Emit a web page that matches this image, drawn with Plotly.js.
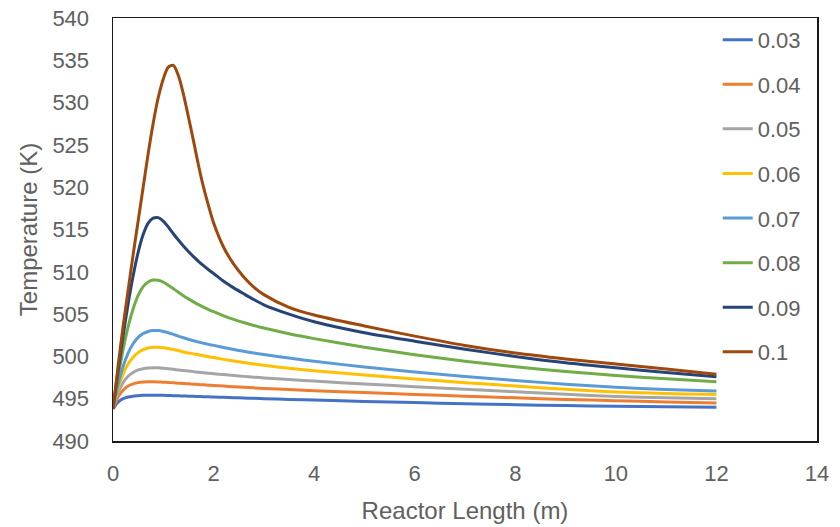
<!DOCTYPE html>
<html>
<head>
<meta charset="utf-8">
<script src="https://cdn.plot.ly/plotly-3.0.1.min.js"></script>
<style>html,body{margin:0;padding:0;background:#fff;}#chart{width:840px;height:527px;}</style>
</head>
<body>
<div id="chart"></div>
<script>
// Reactor length (m)
const xLen = [0, 0.1, 0.2, 0.3, 0.4, 0.5, 0.6, 0.7, 0.8, 0.9, 1.0, 1.1, 1.2, 1.3, 1.4, 1.5, 1.6, 1.7, 1.8, 1.9, 2.0, 2.2, 2.4, 2.6, 2.8, 3.0, 3.5, 4, 5, 6, 7, 8, 9, 10, 11, 12];

// Temperature (K) per series
const t003 = [493.8, 494.6, 495.0, 495.2, 495.3, 495.35, 495.4, 495.4, 495.4, 495.4, 495.4, 495.38, 495.36, 495.34, 495.32, 495.3, 495.28, 495.26, 495.24, 495.22, 495.2, 495.16, 495.12, 495.08, 495.04, 495.0, 494.92, 494.84, 494.68, 494.54, 494.41, 494.29, 494.19, 494.1, 494.04, 494.0];
const t004 = [493.8, 495.2, 496.0, 496.5, 496.75, 496.9, 496.97, 497.0, 497.0, 496.98, 496.95, 496.92, 496.88, 496.84, 496.8, 496.76, 496.72, 496.68, 496.64, 496.6, 496.56, 496.49, 496.42, 496.35, 496.28, 496.22, 496.08, 495.95, 495.72, 495.5, 495.3, 495.1, 494.92, 494.76, 494.62, 494.5];
const t005 = [493.8, 495.7, 496.9, 497.65, 498.1, 498.4, 498.55, 498.63, 498.66, 498.65, 498.6, 498.54, 498.47, 498.4, 498.33, 498.27, 498.2, 498.14, 498.08, 498.02, 497.96, 497.85, 497.74, 497.64, 497.55, 497.46, 497.26, 497.08, 496.74, 496.42, 496.12, 495.82, 495.52, 495.26, 495.1, 495.0];
const t006 = [493.8, 496.2, 497.9, 499.1, 499.9, 500.45, 500.8, 501.0, 501.08, 501.08, 501.02, 500.93, 500.82, 500.7, 500.52, 500.41, 500.3, 500.2, 500.08, 499.97, 499.86, 499.65, 499.45, 499.27, 499.1, 498.95, 498.6, 498.3, 497.8, 497.33, 496.9, 496.5, 496.12, 495.8, 495.6, 495.5];
const t007 = [493.8, 496.6, 498.8, 500.4, 501.5, 502.25, 502.7, 502.95, 503.05, 503.05, 502.95, 502.8, 502.6, 502.4, 502.2, 502.02, 501.85, 501.7, 501.55, 501.42, 501.3, 501.05, 500.82, 500.6, 500.4, 500.22, 499.8, 499.42, 498.75, 498.15, 497.62, 497.15, 496.72, 496.35, 496.08, 495.9];
const t008 = [493.8, 497.5, 500.8, 503.5, 505.6, 507.2, 508.25, 508.8, 509.02, 509.0, 508.78, 508.42, 508.0, 507.58, 507.18, 506.8, 506.45, 506.12, 505.82, 505.54, 505.28, 504.8, 504.38, 504.0, 503.66, 503.35, 502.68, 502.1, 501.08, 500.2, 499.43, 498.78, 498.22, 497.75, 497.35, 497.0];
const t009 = [493.8, 498.2, 502.4, 506.2, 509.5, 512.3, 514.4, 515.75, 516.35, 516.4, 516.0, 515.3, 514.5, 513.75, 513.05, 512.4, 511.8, 511.24, 510.72, 510.24, 509.8, 508.88, 508.1, 507.4, 506.72, 506.1, 505.0, 504.1, 502.8, 501.8, 500.85, 500.0, 499.25, 498.65, 498.1, 497.6];
const t010 = [493.8, 498.8, 503.5, 507.8, 512.0, 516.0, 520.0, 524.0, 527.6, 530.6, 532.8, 534.2, 534.4, 533.2, 531.0, 528.3, 525.5, 522.6, 520.0, 517.8, 515.8, 512.9, 510.9, 509.4, 508.2, 507.3, 505.8, 504.9, 503.6, 502.4, 501.3, 500.4, 499.7, 499.1, 498.5, 497.9];

const seriesNames = ["0.03", "0.04", "0.05", "0.06", "0.07", "0.08", "0.09", "0.1"];
const seriesValues = [t003, t004, t005, t006, t007, t008, t009, t010];
const seriesColors = ["#4472C4", "#ED7D31", "#A5A5A5", "#FFC000", "#5B9BD5", "#70AD47", "#264478", "#9E480E"];

const xTicks = [0, 2, 4, 6, 8, 10, 12, 14];
const yTicks = [490, 495, 500, 505, 510, 515, 520, 525, 530, 535, 540];

const FONT = "Liberation Sans, Arial, sans-serif";
const GRAY = "#606060";

const traces = seriesNames.map((n, i) => ({
  type: "scatter",
  mode: "lines",
  name: n,
  legendgroup: "g" + i,
  x: xLen,
  y: seriesValues[i],
  line: {color: seriesColors[i], width: 3, shape: "spline", smoothing: 0.8}
}));

const layout = {
  width: 840,
  height: 527,
  margin: {l: 113, r: 23, t: 18, b: 86},
  paper_bgcolor: "#ffffff",
  plot_bgcolor: "#ffffff",
  font: {family: FONT, color: GRAY, size: 22},
  showlegend: true,
  legend: {
    x: 0.859, xanchor: "left",
    y: 0.998, yanchor: "top",
    bgcolor: "rgba(255,255,255,0)",
    borderwidth: 0,
    traceorder: "grouped",
    tracegroupgap: 13,
    font: {family: FONT, color: GRAY, size: 22}
  },
  xaxis: {
    range: [0, 14],
    tickvals: xTicks,
    ticktext: xTicks.map(String),
    ticks: "",
    ticklabelstandoff: 12,
    showgrid: false,
    zeroline: false,
    showline: true,
    mirror: true,
    linecolor: "#1a1a1a",
    linewidth: 1.5,
    tickfont: {family: FONT, color: GRAY, size: 22},
    title: {text: "Reactor Length (m)", font: {family: FONT, color: GRAY, size: 24}, standoff: 17}
  },
  yaxis: {
    range: [490, 540],
    tickvals: yTicks,
    ticktext: yTicks.map(String),
    ticks: "",
    ticklabelstandoff: 18,
    showgrid: false,
    zeroline: false,
    showline: true,
    mirror: true,
    linecolor: "#1a1a1a",
    linewidth: 1.5,
    tickfont: {family: FONT, color: GRAY, size: 22},
    title: {text: "Temperature (K)", font: {family: FONT, color: GRAY, size: 24}, standoff: 8}
  }
};

Plotly.newPlot("chart", traces, layout, {displayModeBar: false, staticPlot: true});
</script>
</body>
</html>
